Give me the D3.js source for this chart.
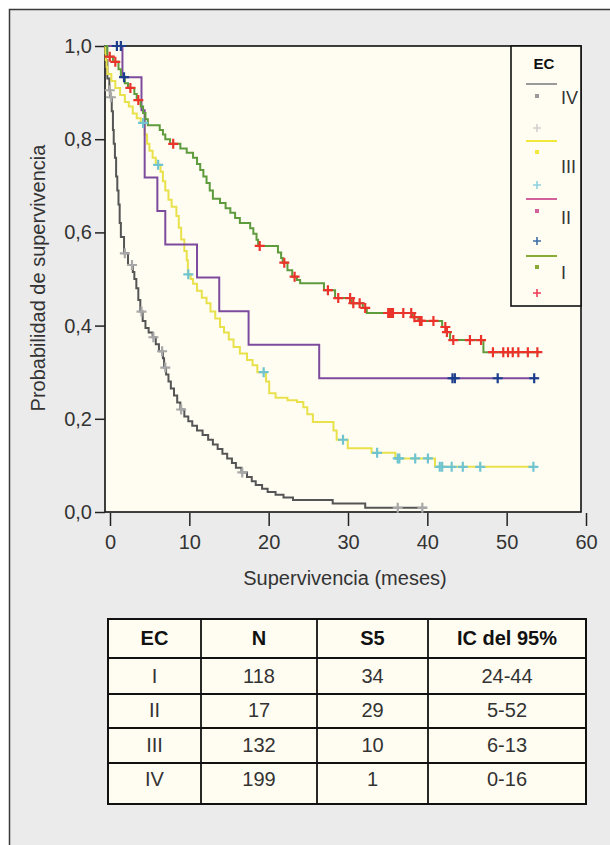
<!DOCTYPE html>
<html>
<head>
<meta charset="utf-8">
<script src="https://cdn.jsdelivr.net/npm/d3@7"></script>
<style>
  body { margin: 0; background: #fff; }
  svg { display: block; }
</style>
</head>
<body>
<div id="chart"></div>
<script>
// Kaplan-Meier curves by stage (EC)
// each time is where the curve drops to the matching survival value
var stages = ["I", "II", "III", "IV"];

var timeI = [0.3, 1.0, 1.7, 2.0, 2.5, 2.9, 3.7, 4.0, 4.5, 4.8, 5.1, 5.4, 6.9, 7.3, 7.6, 8.2, 9.5, 10.3, 11.1, 11.6,
  12.0, 12.4, 12.8, 13.2, 13.6, 14.5, 15.2, 15.8, 16.4, 17.0, 18.3, 18.7, 19.1, 19.3, 21.8, 22.2, 22.4, 23.0, 23.6, 24.2,
  24.6, 27.6, 29.0, 31.1, 32.5, 33.0, 38.8, 39.5, 42.5, 43.0, 43.5, 47.7];
var survI = [0.977, 0.966, 0.95, 0.934, 0.92, 0.91, 0.897, 0.884, 0.87, 0.856, 0.843, 0.83, 0.82, 0.81, 0.8, 0.79, 0.78, 0.771, 0.76, 0.747,
  0.734, 0.72, 0.706, 0.69, 0.672, 0.663, 0.652, 0.642, 0.631, 0.62, 0.609, 0.597, 0.584, 0.571, 0.557, 0.545, 0.535, 0.519, 0.505, 0.498,
  0.491, 0.476, 0.459, 0.448, 0.438, 0.427, 0.418, 0.41, 0.397, 0.386, 0.369, 0.343];
var censI = [0.6, 1.3, 3.2, 4.2, 8.6, 19.5, 22.6, 23.9, 28.1, 29.4, 30.9, 31.3, 32.1, 32.8, 35.7, 35.9, 36.1, 36.3, 37.6, 38.6,
  39.0, 39.7, 39.9, 41.4, 42.9, 43.1, 43.9, 46.0, 47.4, 48.9, 50.2, 50.8, 51.4, 52.1, 53.3, 54.5];
var lastI = 54.8;

var timeII = [2.2, 4.6, 5.0, 6.6, 7.6, 11.6, 14.4, 18.1, 27.0];
var survII = [0.933, 0.862, 0.718, 0.646, 0.574, 0.503, 0.431, 0.359, 0.287];
var censII = [1.5, 2.0, 2.4, 43.8, 44.1, 49.5, 54.1];
var lastII = 54.6;

var timeIII = [0.05, 0.1, 0.2, 0.3, 0.8, 1.3, 1.9, 2.5, 3.0, 3.5, 4.0, 4.5, 5.0, 5.3, 5.6, 6.0, 6.4, 7.0, 7.3, 7.6,
  8.0, 8.4, 9.0, 9.3, 9.6, 10.0, 10.3, 10.45, 10.8, 11.1, 11.6, 12.2, 12.8, 13.3, 13.9, 14.5, 15.0, 15.6, 16.2, 17.0,
  17.9, 18.6, 19.2, 20.3, 20.7, 21.5, 23.0, 24.2, 25.0, 25.5, 26.2, 28.8, 29.2, 30.6, 33.6, 36.6, 41.6];
var survIII = [0.985, 0.97, 0.955, 0.94, 0.925, 0.91, 0.895, 0.88, 0.87, 0.855, 0.845, 0.835, 0.81, 0.79, 0.775, 0.76, 0.745, 0.73, 0.71, 0.69,
  0.67, 0.655, 0.635, 0.61, 0.585, 0.56, 0.54, 0.51, 0.5, 0.49, 0.475, 0.46, 0.448, 0.43, 0.415, 0.397, 0.385, 0.37, 0.354, 0.34,
  0.326, 0.315, 0.3, 0.28, 0.255, 0.245, 0.24, 0.236, 0.225, 0.21, 0.193, 0.175, 0.155, 0.137, 0.127, 0.115, 0.097];
var censIII = [4.8, 6.7, 10.5, 20.0, 30.0, 34.3, 36.9, 37.1, 39.1, 40.7, 42.2, 42.5, 43.7, 45.1, 47.3, 54.0];
var lastIII = 54.2;

var timeIV = [0.1, 0.3, 0.55, 0.65, 0.85, 1.0, 1.1, 1.25, 1.4, 1.55, 1.7, 1.85, 2.0, 2.4, 2.9, 3.5, 3.7, 3.95, 4.2, 4.45,
  4.75, 5.1, 5.5, 6.0, 6.4, 6.8, 7.3, 7.45, 7.7, 8.0, 8.3, 8.7, 9.1, 9.5, 10.0, 10.5, 11.0, 11.6, 12.3, 13.0,
  13.6, 14.2, 14.8, 15.4, 16.0, 16.5, 17.2, 17.9, 18.5, 19.0, 19.8, 20.5, 21.5, 22.5, 23.7, 28.7, 32.8];
var survIV = [0.97, 0.93, 0.905, 0.89, 0.86, 0.82, 0.79, 0.76, 0.72, 0.69, 0.66, 0.62, 0.59, 0.555, 0.53, 0.515, 0.5, 0.48, 0.455, 0.43,
  0.41, 0.395, 0.385, 0.375, 0.36, 0.345, 0.33, 0.31, 0.295, 0.28, 0.265, 0.25, 0.235, 0.22, 0.205, 0.195, 0.185, 0.175, 0.165, 0.155,
  0.145, 0.135, 0.125, 0.115, 0.105, 0.095, 0.085, 0.075, 0.066, 0.058, 0.05, 0.043, 0.037, 0.031, 0.026, 0.018, 0.009];
var censIV = [0.6, 0.75, 2.5, 3.4, 4.6, 6.1, 7.2, 7.6, 9.6, 17.3, 36.9, 40.0];
var lastIV = 40.6;

var xTicks = [0, 10, 20, 30, 40, 50, 60];
var yTicks = [0, 0.2, 0.4, 0.6, 0.8, 1.0];

// table under the chart
var tableHead = ["EC", "N", "S5", "IC del 95%"];
var tableN = [118, 17, 132, 199];
var tableS5 = [34, 29, 10, 1];
var tableIC = ["24-44", "5-52", "6-13", "0-16"];

var width = 610, height = 845;
var font = "'Liberation Sans', Arial, Helvetica, sans-serif";

var svg = d3.select("#chart").append("svg")
  .attr("width", width)
  .attr("height", height)
  .style("font-family", font);

// grey panel
svg.append("rect")
  .attr("x", 9.5).attr("y", 9.5)
  .attr("width", 720).attr("height", 900)
  .attr("fill", "#ebebeb")
  .attr("stroke", "#3a3a3a")
  .attr("stroke-width", 1.5);

var plot = {left: 105, right: 581, top: 46, bottom: 512};

var x = d3.scaleLinear().domain([0, 60]).range([plot.left, plot.right]);
var y = d3.scaleLinear().domain([0, 1]).range([plot.bottom, plot.top]);

svg.append("rect")
  .attr("x", plot.left).attr("y", plot.top)
  .attr("width", plot.right - plot.left).attr("height", plot.bottom - plot.top)
  .attr("fill", "#fffdf2")
  .attr("stroke", "#111")
  .attr("stroke-width", 1.6);

// y axis
var yAxis = svg.append("g")
  .attr("transform", "translate(" + plot.left + ",0)")
  .call(d3.axisLeft(y).tickValues(yTicks).tickSize(10).tickPadding(3)
    .tickFormat(function(d) { return d3.format(".1f")(d).replace(".", ","); }));

// x axis sits 5px right of the frame in the original
var xAxis = svg.append("g")
  .attr("transform", "translate(5," + (plot.bottom + 1) + ")")
  .call(d3.axisBottom(x).tickValues(xTicks).tickSize(13).tickPadding(9));

[xAxis, yAxis].forEach(function(a) {
  a.select(".domain").remove();
  a.selectAll("line").attr("stroke", "#222").attr("stroke-width", 1.5);
  a.selectAll("text")
    .attr("font-family", font)
    .attr("font-size", 20)
    .attr("fill", "#333");
});

svg.append("text")
  .attr("transform", "translate(45,278) rotate(-90)")
  .attr("text-anchor", "middle")
  .attr("font-size", 20)
  .attr("fill", "#333")
  .text("Probabilidad de supervivencia");

svg.append("text")
  .attr("x", 345).attr("y", 585)
  .attr("text-anchor", "middle")
  .attr("font-size", 20)
  .attr("fill", "#333")
  .text("Supervivencia (meses)");

// curves
var series = [
  {t: timeIV, s: survIV, c: censIV, end: lastIV, line: "#555555", mark: "#a8a8a8"},
  {t: timeIII, s: survIII, c: censIII, end: lastIII, line: "#e9e14c", mark: "#6fc4cf"},
  {t: timeII, s: survII, c: censII, end: lastII, line: "#7d4b9d", mark: "#1c3d8c"},
  {t: timeI, s: survI, c: censI, end: lastI, line: "#5d9b3d", mark: "#ea342b"}
];

function survAt(sr, t) {
  var v = 1;
  sr.t.forEach(function(ti, i) { if (ti <= t) v = sr.s[i]; });
  return v;
}

var km = d3.line()
  .x(function(d) { return x(d[0]); })
  .y(function(d) { return y(d[1]); })
  .curve(d3.curveStepAfter);

series.forEach(function(sr) {
  var pts = [[0, 1]].concat(sr.t.map(function(t, i) { return [t, sr.s[i]]; }));
  pts.push([sr.end, sr.s[sr.s.length - 1]]);
  svg.append("path")
    .datum(pts)
    .attr("d", km)
    .attr("fill", "none")
    .attr("stroke", sr.line)
    .attr("stroke-width", 2);
});

var cross = "M-5,0H5M0,-5V5";
series.forEach(function(sr) {
  svg.append("g").selectAll("path")
    .data(sr.c)
    .enter()
    .append("path")
    .attr("d", cross)
    .attr("transform", function(d) { return "translate(" + x(d) + "," + y(survAt(sr, d)) + ")"; })
    .attr("stroke", sr.mark)
    .attr("stroke-width", 2.2)
    .attr("fill", "none");
});

// legend box in the top right corner
var lg = svg.append("g");
lg.append("rect")
  .attr("x", 511).attr("y", plot.top)
  .attr("width", plot.right - 511).attr("height", 306 - plot.top)
  .attr("fill", "#fffdf2")
  .attr("stroke", "#111")
  .attr("stroke-width", 1.6);
lg.append("text")
  .attr("x", 544).attr("y", 68.5)
  .attr("text-anchor", "middle")
  .attr("font-size", 15)
  .attr("font-weight", "bold")
  .attr("fill", "#111")
  .text("EC");

var legendItems = [
  {kind: "line", y: 84, color: "#9a9a9a"},
  {kind: "dot", y: 96, color: "#9a9a9a"},
  {kind: "cross", y: 128, color: "#d0d0d0"},
  {kind: "line", y: 141, color: "#f2e83a"},
  {kind: "dot", y: 152, color: "#f2e83a"},
  {kind: "cross", y: 185, color: "#8fd2de"},
  {kind: "line", y: 199, color: "#d2619b"},
  {kind: "dot", y: 211, color: "#d2619b"},
  {kind: "cross", y: 241, color: "#3f6fa8"},
  {kind: "line", y: 256, color: "#88aa36"},
  {kind: "dot", y: 267, color: "#88aa36"},
  {kind: "cross", y: 293, color: "#f03c55"}
];
legendItems.forEach(function(it) {
  if (it.kind === "line") {
    lg.append("line").attr("x1", 526).attr("x2", 557).attr("y1", it.y).attr("y2", it.y)
      .attr("stroke", it.color).attr("stroke-width", 2);
  } else if (it.kind === "dot") {
    lg.append("rect").attr("x", 535).attr("y", it.y - 2).attr("width", 4).attr("height", 4)
      .attr("fill", it.color);
  } else {
    lg.append("path").attr("d", "M-4,0H4M0,-4V4")
      .attr("transform", "translate(537," + it.y + ")")
      .attr("stroke", it.color).attr("stroke-width", 1.6);
  }
});
var legendLabelY = [278.5, 223.5, 172.5, 103.5];
stages.forEach(function(s, i) {
  lg.append("text")
    .attr("x", 561).attr("y", legendLabelY[i])
    .attr("font-size", 18)
    .attr("fill", "#333")
    .text(s);
});

// table
var colX = [108, 201, 317, 428, 586];
var rowY = [619, 658, 694, 728, 763, 804];
var textY = [638, 676, 710, 745, 779];
var tbl = svg.append("g");
tbl.append("rect")
  .attr("x", colX[0]).attr("y", rowY[0])
  .attr("width", colX[4] - colX[0]).attr("height", rowY[5] - rowY[0])
  .attr("fill", "#fffdf2")
  .attr("stroke", "#111")
  .attr("stroke-width", 2);
colX.slice(1, 4).forEach(function(cx) {
  tbl.append("line").attr("x1", cx).attr("x2", cx).attr("y1", rowY[0]).attr("y2", rowY[5])
    .attr("stroke", "#111").attr("stroke-width", 1.8);
});
rowY.slice(1, 5).forEach(function(ry) {
  tbl.append("line").attr("x1", colX[0]).attr("x2", colX[4]).attr("y1", ry).attr("y2", ry)
    .attr("stroke", "#111").attr("stroke-width", 1.8);
});

function colCenter(j) { return (colX[j] + colX[j + 1]) / 2; }

tableHead.forEach(function(h, j) {
  tbl.append("text")
    .attr("x", colCenter(j)).attr("y", textY[0])
    .attr("dy", "0.36em")
    .attr("text-anchor", "middle")
    .attr("font-size", 20)
    .attr("font-weight", "bold")
    .attr("fill", "#111")
    .text(h);
});

stages.forEach(function(s, i) {
  var cells = [s, tableN[i], tableS5[i], tableIC[i]];
  cells.forEach(function(v, j) {
    tbl.append("text")
      .attr("x", colCenter(j)).attr("y", textY[i + 1])
      .attr("dy", "0.36em")
      .attr("text-anchor", "middle")
      .attr("font-size", 20)
      .attr("fill", "#333")
      .text(v);
  });
});
</script>
</body>
</html>
